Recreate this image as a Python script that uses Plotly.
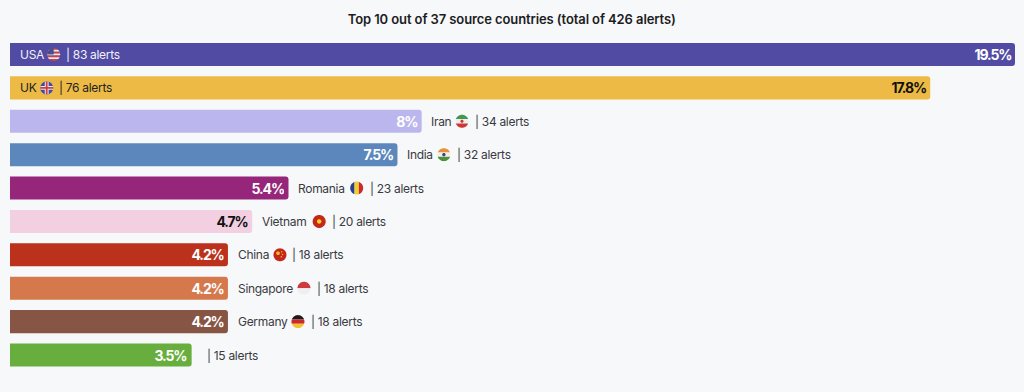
import math
import plotly.graph_objects as go

countries = ["USA", "UK", "Iran", "India", "Romania", "Vietnam", "China", "Singapore", "Germany", ""]
alerts = [83, 76, 34, 32, 23, 20, 18, 18, 18, 15]
percent_labels = ["19.5%", "17.8%", "8%", "7.5%", "5.4%", "4.7%", "4.2%", "4.2%", "4.2%", "3.5%"]
bar_colors = ["#524ba3", "#edbb45", "#bcb6ee", "#5b87bd", "#95267a", "#f3cfe2", "#bb311c", "#d5784b", "#875544", "#68ae3e"]
percent_colors = ["#ffffff", "#111111", "#ffffff", "#ffffff", "#ffffff", "#111111", "#ffffff", "#ffffff", "#ffffff", "#ffffff"]
title_text = "Top 10 out of 37 source countries (total of 426 alerts)"
rows = list(range(len(countries)))

inside = [True, True] + [False] * 8
flag_offsets = [43.7, 36.7, 40.3, 46.4, 68.2, 67, 52, 76, 70, None]
pipe_offsets = [54.4, 47.0, 51.2, 57.2, 79.2, 77.7, 62.2, 86.7, 81.0, 13.8]
label_colors = ["#f1f1f8", "#222222"] + ["#3a3a3f"] * 8
FONT = "Inter, Roboto, sans-serif"
R = 6.5


def clip(x0=-1, x1=1, y0=-1, y1=1, r=1.0, cx=0.0, cy=0.0):
    pts = []
    for i in range(48):
        a = 2 * math.pi * i / 48
        px = min(max(cx + r * math.cos(a), x0), x1) * R
        py = min(max(cy + r * math.sin(a), y0), y1) * R
        pts.append(f"{px:.2f},{py:.2f}")
    return "M" + " L".join(pts) + " Z"


def hbands(cols):
    n = len(cols)
    return [(c, clip(y0=1 - 2 * (i + 1) / n, y1=1 - 2 * i / n)) for i, c in enumerate(cols)]


flags = {
    "USA": hbands(["#c8404a", "#f1e6e6", "#c8404a", "#f1e6e6", "#c8404a", "#f1e6e6", "#c8404a"])
    + [("#46508f", clip(x1=0.0, y0=0.0))],
    "UK": [("#3f4f95", clip()), ("#e8e4ea", clip(y0=-0.3, y1=0.3)), ("#e8e4ea", clip(x0=-0.3, x1=0.3)),
           ("#cf3f45", clip(y0=-0.14, y1=0.14)), ("#cf3f45", clip(x0=-0.14, x1=0.14))],
    "Iran": hbands(["#3f9a4e", "#f0eeee", "#cf3636"]) + [("#cf3636", clip(r=0.24))],
    "India": hbands(["#e8923a", "#f3efe8", "#4f8f3d"]) + [("#2f4a8f", clip(r=0.26))],
    "Romania": [("#27408f", clip(x1=-0.33)), ("#f5cd2e", clip(x0=-0.33, x1=0.33)), ("#cc2b2b", clip(x0=0.33))],
    "Vietnam": [("#c4281c", clip()), ("#f5d020", clip(r=0.34))],
    "China": [("#c4281c", clip()), ("#f0c020", clip(r=0.28, cx=-0.3, cy=0.25)),
              ("#f0c020", clip(r=0.11, cx=0.25, cy=0.45)), ("#f0c020", clip(r=0.11, cx=0.4, cy=0.05)),
              ("#f0c020", clip(r=0.11, cx=0.2, cy=-0.3))],
    "Singapore": [("#cf3a3f", clip(y0=0.0)), ("#efeff1", clip(y1=0.0))],
    "Germany": hbands(["#1c1c1c", "#cc2a2a", "#f2c230"]),
}

fig = go.Figure(go.Bar(
    x=alerts, y=rows, orientation="h", width=0.69,
    marker=dict(color=bar_colors, cornerradius=3, line=dict(width=0)),
    hoverinfo="skip",
))

annotations = [dict(text=title_text, xref="paper", yref="paper", x=512 / 1024, y=1 - 18.5 / 392,
                    xanchor="center", yanchor="middle", showarrow=False,
                    font=dict(family=FONT, size=13, color="#1c1c22", weight=600))]
shapes = []
for i, name in enumerate(countries):
    base = 0 if inside[i] else alerts[i]
    annotations.append(dict(text=percent_labels[i], x=alerts[i], y=i, xanchor="right", yanchor="middle",
                            xshift=-2.2, showarrow=False, align="right",
                            font=dict(family=FONT, size=14, color=percent_colors[i], weight=700)))
    annotations.append(dict(text=name, x=base, y=i, xanchor="left", yanchor="middle", xshift=7.6,
                            showarrow=False, align="left",
                            font=dict(family=FONT, size=12, color=label_colors[i])))
    annotations.append(dict(text=f"| {alerts[i]} alerts", x=base, y=i, xanchor="left", yanchor="middle",
                            xshift=pipe_offsets[i], showarrow=False, align="left",
                            font=dict(family=FONT, size=12, color=label_colors[i])))
    if name in flags:
        off = flag_offsets[i]
        for color, path in flags[name]:
            moved = []
            for tok in path.replace("M", "").replace(" Z", "").split(" L"):
                px, py = tok.split(",")
                moved.append(f"{float(px) + off:.2f},{py}")
            shapes.append(dict(type="path", path="M" + " L".join(moved) + " Z", xref="x", yref="y",
                               xsizemode="pixel", ysizemode="pixel", xanchor=base, yanchor=i,
                               fillcolor=color, line=dict(width=0), layer="above"))

fig.update_layout(
    width=1024, height=392, margin=dict(l=0, r=0, t=0, b=0),
    paper_bgcolor="#f7f8fa", plot_bgcolor="#f7f8fa", showlegend=False,
    xaxis=dict(domain=[10 / 1024, 1015 / 1024], range=[0, 83], visible=False),
    yaxis=dict(domain=[1 - 371.7 / 392, 1 - 37.8 / 392], range=[9.5, -0.5], visible=False),
    annotations=annotations, shapes=shapes,
)
post = """
document.body.style.margin='0';document.body.style.background='#f7f8fa';
document.querySelectorAll('.annotation-text').forEach(function(t){
  var s=parseFloat(getComputedStyle(t).fontSize);
  t.style.letterSpacing = s>=14 ? '-1.1px' : (s>=13 ? '-0.1px' : '-0.3px');
  t.style.opacity='0.999';
});
"""
fig.write_html("out.html", config=dict(displayModeBar=False), post_script=post)
